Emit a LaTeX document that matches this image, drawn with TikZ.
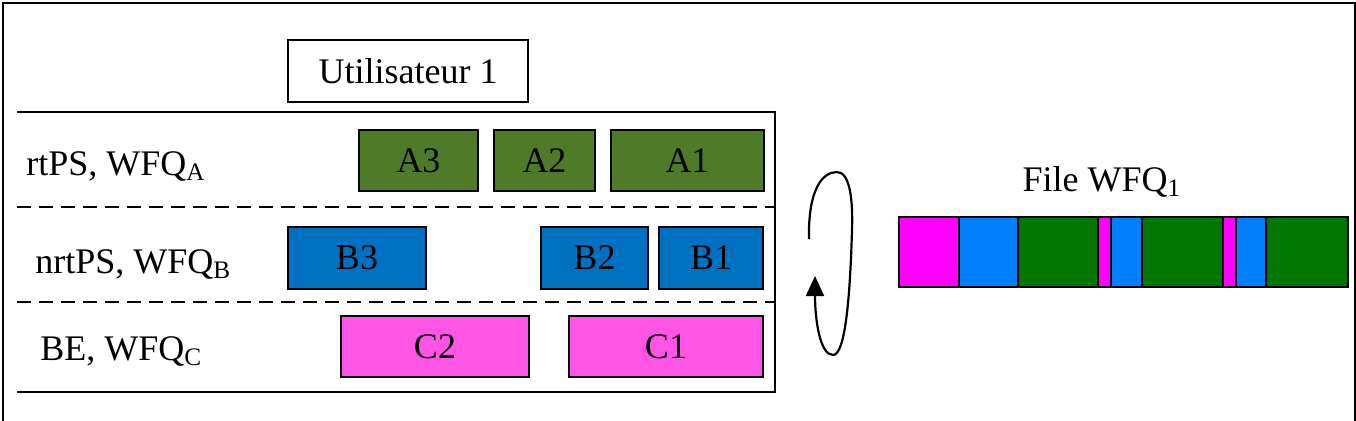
\documentclass[tikz,border=0pt]{standalone}
\usepackage{fontspec}
\setmainfont{Liberation Serif}
\usetikzlibrary{fit,arrows.meta}
\definecolor{agreen}{HTML}{4F7A28}
\definecolor{bblue}{HTML}{0070C0}
\definecolor{cpink}{HTML}{FF55E6}
\definecolor{qmag}{HTML}{FF00FF}
\definecolor{qblue}{HTML}{0080FF}
\definecolor{qgreen}{HTML}{007800}
\begin{document}
\begin{tikzpicture}[x=0.5pt,y=-0.5pt,
  every node/.style={font=\fontsize{18}{20}\selectfont},
  pkt/.style={draw=black,line width=0.9pt,inner sep=0pt},
  apkt/.style={pkt,fill=agreen},
  bpkt/.style={pkt,fill=bblue},
  cpkt/.style={pkt,fill=cpink},
  sep/.style={line width=0.9pt,dash pattern=on 7pt off 4pt},
  frame/.style={line width=1pt},
  cell/.style={draw=black,line width=0.7pt}]
\useasboundingbox (0,0) rectangle (1356,420);
% outer frame
\draw[frame] (3,430) -- (3,3) -- (1355,3) -- (1355,430);
% user box
\node[draw,line width=0.9pt,minimum width=120pt,minimum height=31pt,inner sep=0pt] (user) at (408,71) {Utilisateur 1};
% inner frame
\draw[frame] (17,112) -- (775,112) -- (775,392) -- (17,392);
\draw[sep] (17,207) -- (775,207);
\draw[sep] (17,302) -- (775,302);
% class labels
\node[anchor=base west,inner sep=0pt] (la) at (26,175) {rtPS, WFQ\textsubscript{A}};
\node[anchor=base west,inner sep=0pt] (lb) at (35,273) {nrtPS, WFQ\textsubscript{B}};
\node[anchor=base west,inner sep=0pt] (lc) at (40,360) {BE, WFQ\textsubscript{C}};
% packets
\node[apkt,fit={(359,130) (478,191)}] (a3) {};
\node at (a3.center) {A3};
\node[apkt,fit={(494,130) (595,191)}] (a2) {};
\node at (a2.center) {A2};
\node[apkt,fit={(611,130) (764,191)}] (a1) {};
\node at (a1.center) {A1};
\node[bpkt,fit={(288,227) (426,289)}] (b3) {};
\node at (b3.center) {B3};
\node[bpkt,fit={(541,227) (648,289)}] (b2) {};
\node at (b2.center) {B2};
\node[bpkt,fit={(659,227) (763,289)}] (b1) {};
\node at (b1.center) {B1};
\node[cpkt,fit={(341,316) (529,377)}] (c2) {};
\node at (c2.center) {C2};
\node[cpkt,fit={(569,316) (763,377)}] (c1) {};
\node at (c1.center) {C1};
% loop arrow
\draw[line width=1.1pt,-{Triangle[length=10pt,width=9pt]}]
  (809,239) .. controls (808,190) and (822,172) .. (837,172)
  .. controls (850,172) and (853,200) .. (852,230)
  .. controls (850,300) and (845,355) .. (833,355)
  .. controls (820,355) and (815,320) .. (815,276);
% WFQ file
\node[inner sep=0pt] (ftitle) at (1102,182) {File WFQ\textsubscript{1}};
\draw[cell,fill=qmag] (899,217) rectangle (959,287);
\draw[cell,fill=qblue] (959,217) rectangle (1018,287);
\draw[cell,fill=qgreen] (1018,217) rectangle (1098,287);
\draw[cell,fill=qmag] (1098,217) rectangle (1111,287);
\draw[cell,fill=qblue] (1111,217) rectangle (1142,287);
\draw[cell,fill=qgreen] (1142,217) rectangle (1223,287);
\draw[cell,fill=qmag] (1223,217) rectangle (1236,287);
\draw[cell,fill=qblue] (1236,217) rectangle (1266,287);
\draw[cell,fill=qgreen] (1266,217) rectangle (1348,287);
\end{tikzpicture}
\end{document}
